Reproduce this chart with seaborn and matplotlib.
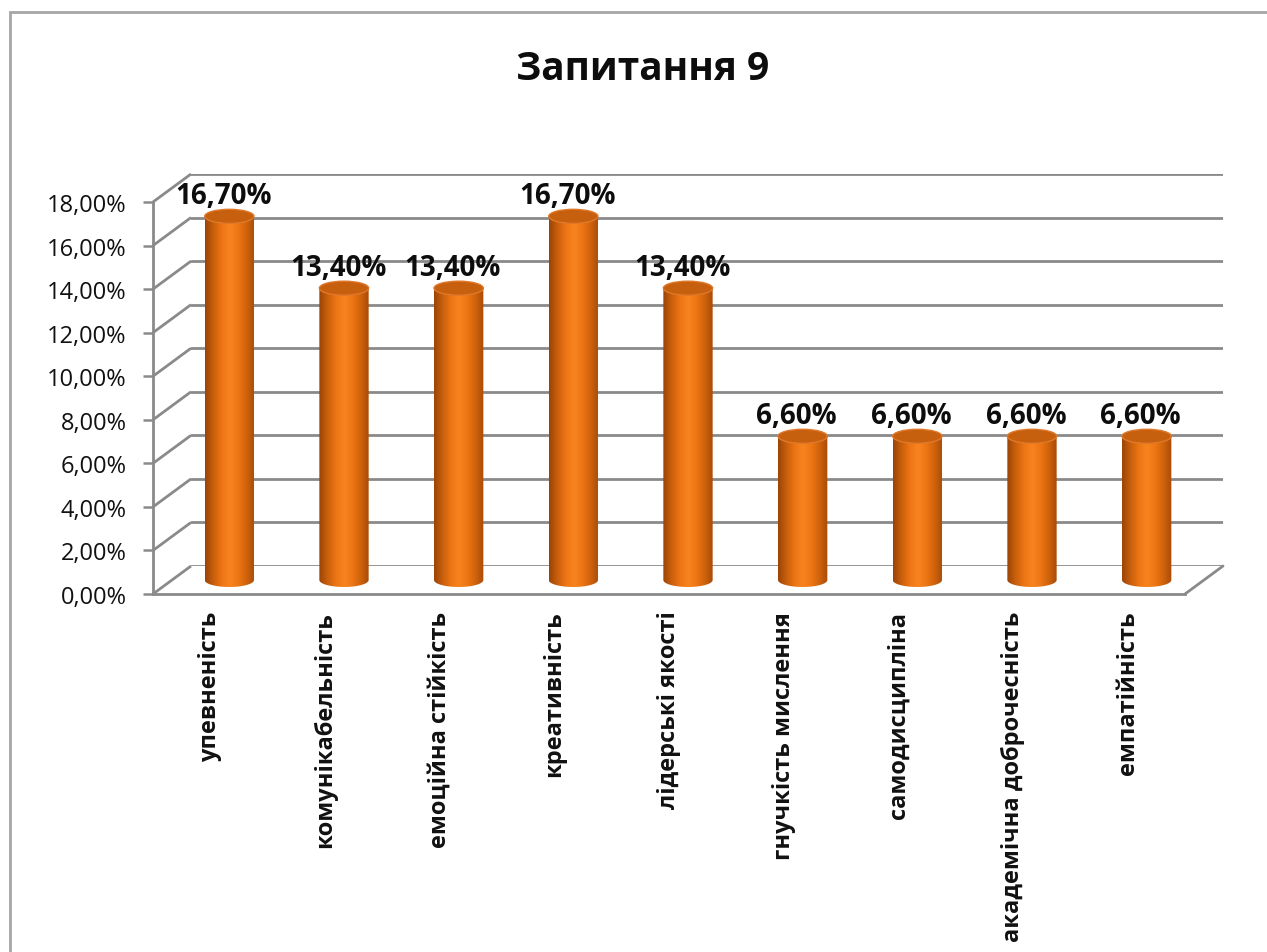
import numpy as np
import pandas as pd
import matplotlib
matplotlib.use("Agg")
import matplotlib.pyplot as plt
import seaborn as sns
from matplotlib.patches import Ellipse, Rectangle, PathPatch
from matplotlib.path import Path
from matplotlib.colors import LinearSegmentedColormap

# ---------------- data ----------------
categories = ["упевненість", "комунікабельність", "емоційна стійкість", "креативність",
              "лідерські якості", "гнучкість мислення", "самодисципліна",
              "академічна доброчесність", "емпатійність"]
values = [0.167, 0.134, 0.134, 0.167, 0.134, 0.066, 0.066, 0.066, 0.066]
value_labels = ["16,70%", "13,40%", "13,40%", "16,70%", "13,40%", "6,60%", "6,60%", "6,60%", "6,60%"]
yticks = [0.0, 0.02, 0.04, 0.06, 0.08, 0.10, 0.12, 0.14, 0.16, 0.18]
ytick_labels = ["0,00%", "2,00%", "4,00%", "6,00%", "8,00%", "10,00%", "12,00%",
                "14,00%", "16,00%", "18,00%"]
title = "Запитання 9"

df = pd.DataFrame({"category": categories, "value": values})

sns.set_theme(style="white")
FONT = ["Open Sans", "DejaVu Sans"]
plt.rcParams["font.family"] = FONT

W, H = 1267, 953
fig = plt.figure(figsize=(W / 100, H / 100), dpi=100)

# geometry in pixels
left_px, right_px = 172, 1204      # mid-depth plane
y0_px, y18_px = 581, 189
ddx, ddy = 19, 14                   # half-depth offset (pixels)

def axpos(l, r, b, t):
    return [l / W, 1 - b / H, (r - l) / W, (b - t) / H]

grid_col = "#8a8a8a"
ymax = 0.18
xlim = (-0.5, len(categories) - 0.5)

# back wall (gridlines)
ax_b = fig.add_axes(axpos(left_px + ddx, right_px + ddx, y0_px - ddy, y18_px - ddy), zorder=0)
ax_b.set_xlim(*xlim); ax_b.set_ylim(0, ymax)
ax_b.set_yticks(yticks); ax_b.set_xticks([])
ax_b.tick_params(left=False, labelleft=False)
ax_b.grid(axis="y", color=grid_col, lw=2.0)
for s in ax_b.spines.values():
    s.set_visible(False)
ax_b.patch.set_alpha(0)

# front frame (axis lines, ticks, labels)
ax_f = fig.add_axes(axpos(left_px - ddx, right_px - ddx, y0_px + ddy, y18_px + ddy), zorder=1)
ax_f.set_xlim(*xlim); ax_f.set_ylim(0, ymax)
ax_f.set_yticks(yticks)
ax_f.set_yticklabels(ytick_labels, fontsize=17, color="#111111")
ax_f.set_xticks(range(len(categories)))
ax_f.set_xticklabels(categories, rotation=90, fontsize=17, fontweight="bold", color="#111111", va="top")
ax_f.set_xticks(np.arange(-0.5, len(categories)), minor=True)
ax_f.tick_params(axis="x", which="major", length=0, pad=12)
ax_f.tick_params(axis="x", which="minor", length=7, width=1.8, color=grid_col, direction="out")
ax_f.tick_params(axis="y", length=7, width=1.8, color=grid_col, direction="out", pad=12, left=True)
for k in ["top", "right"]:
    ax_f.spines[k].set_visible(False)
for k in ["left", "bottom"]:
    ax_f.spines[k].set_color(grid_col)
    ax_f.spines[k].set_linewidth(2.0)
ax_f.patch.set_alpha(0)

# main axes (mid-depth) with the cylinders
ax = fig.add_axes(axpos(left_px, right_px, y0_px, y18_px), zorder=2)
sns.barplot(data=df, x="category", y="value", ax=ax, color="#F07810", width=0.43,
            saturation=1, edgecolor="none")
ax.set_xlim(*xlim); ax.set_ylim(0, ymax)
ax.set_xticks([]); ax.set_yticks([])
ax.set_xlabel(""); ax.set_ylabel("")
for s in ax.spines.values():
    s.set_visible(False)
ax.patch.set_alpha(0)

# depth in data units
ux = (right_px - left_px) / (xlim[1] - xlim[0])
uy = (y0_px - y18_px) / ymax
dxu, dyu = ddx / ux, ddy / uy

# side wall diagonals + floor right edge (front point lower-left, back point upper-right)
for v in yticks:
    ax.plot([xlim[0] - dxu, xlim[0] + dxu], [v - dyu, v + dyu], color=grid_col, lw=2.0,
            clip_on=False, zorder=0, solid_capstyle="butt")
ax.plot([xlim[1] - dxu, xlim[1] + dxu], [-dyu, dyu], color=grid_col, lw=2.0,
        clip_on=False, zorder=0)

cmap = LinearSegmentedColormap.from_list(
    "cyl", ["#9a4306", "#c85f0c", "#ec7414", "#f7841f", "#ee7614", "#cf630c", "#a84b07"])
grad = np.linspace(0, 1, 256).reshape(1, -1)
ell_h = 14 / uy  # ellipse height in data units

for bar, lab in zip(list(ax.patches), value_labels):
    x = bar.get_x(); w = bar.get_width(); h = bar.get_height()
    bar.set_visible(False)
    cx = x + w / 2
    # outline: straight sides, rounded bottom
    t = np.linspace(np.pi, 2 * np.pi, 40)
    bx = cx + (w / 2) * np.cos(t)
    by = 0 + (ell_h / 2) * np.sin(t)
    verts = [(x, h)] + list(zip(bx, by)) + [(x + w, h), (x, h)]
    codes = [Path.MOVETO] + [Path.LINETO] * (len(verts) - 2) + [Path.CLOSEPOLY]
    clip = PathPatch(Path(verts, codes), transform=ax.transData, facecolor="none", edgecolor="none")
    ax.add_patch(clip)
    im = ax.imshow(grad, cmap=cmap, aspect="auto", extent=[x, x + w, -ell_h, h], zorder=3)
    im.set_clip_box(fig.bbox)
    im.set_clip_path(clip)
    # top cap
    ax.add_patch(Ellipse((cx, h), w, ell_h, facecolor="#c65f0e", edgecolor="#e0782a",
                         lw=1.0, zorder=4, clip_on=False))
    ax.text(cx - 6 / ux, h + 21 / uy, lab, ha="center", va="center", fontsize=20,
            fontweight="bold", color="#0d0d0d", zorder=5, clip_on=False)

ax.set_xlim(*xlim); ax.set_ylim(0, ymax)

fig.text(643 / W, 1 - 70 / H, title, ha="center", va="center", fontsize=28,
         fontweight="bold", color="#0d0d0d")

# chart frame
fig.patches.append(Rectangle((10 / W, -0.1), 1.2, 1 - 13 / H + 0.1, transform=fig.transFigure,
                             facecolor="none", edgecolor="#a6a6a6", lw=2.0))

fig.savefig("out.png", dpi=100, facecolor="white")
